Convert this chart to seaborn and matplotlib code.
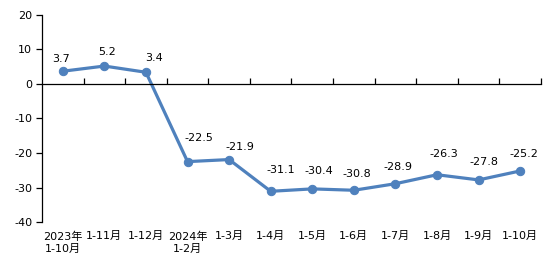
import matplotlib
matplotlib.use("Agg")
import matplotlib.pyplot as plt
import matplotlib.transforms as mtransforms
import seaborn as sns
import pandas as pd

categories = ["2023年\n1-10月", "1-11月", "1-12月", "2024年\n1-2月", "1-3月", "1-4月",
              "1-5月", "1-6月", "1-7月", "1-8月", "1-9月", "1-10月"]
values = [3.7, 5.2, 3.4, -22.5, -21.9, -31.1, -30.4, -30.8, -28.9, -26.3, -27.8, -25.2]
yticks = [20, 10, 0, -10, -20, -30, -40]

# label offsets in points (style only)
label_dx = [-1, 2, 6, 8, 8, 7, 5, 2, 2, 5, 4, 3]
label_dy = [9, 10, 10, 17, 9, 15, 13, 12, 12, 15, 13, 12]

sns.set_theme(style="white")
plt.rcParams['font.family'] = ['DejaVu Sans', 'Noto Sans CJK SC']

df = pd.DataFrame({"x": range(len(categories)), "y": values})

fig = plt.figure(figsize=(5.54, 2.72), dpi=100)
ax = fig.add_axes([0.0758, 0.1838, 0.9007, 0.7611])
color = "#4F81BD"
sns.lineplot(data=df, x="x", y="y", ax=ax, color=color, linewidth=2.3,
             marker="o", markersize=6, markeredgecolor=color, markerfacecolor=color)

ax.set_xlim(-0.5, len(categories) - 0.5)
ax.set_ylim(-40, 20)
ax.set_yticks(yticks)
ax.set_yticklabels([str(t) for t in yticks], fontsize=8, color="black")
ax.set_xlabel("")
ax.set_ylabel("")

for s in ["top", "right"]:
    ax.spines[s].set_visible(False)
ax.spines["left"].set_color("black")
ax.spines["left"].set_linewidth(0.9)
ax.spines["bottom"].set_position(("data", 0))
ax.spines["bottom"].set_color("black")
ax.spines["bottom"].set_linewidth(0.9)

ax.tick_params(axis="y", direction="out", length=4, width=0.9, color="black", left=True, pad=3)
bounds = [i + 0.5 for i in range(len(categories))]
ax.set_xticks(bounds)
ax.set_xticklabels([])
ax.tick_params(axis="x", direction="in", length=4, width=0.9, color="black", bottom=True)

trans = mtransforms.blended_transform_factory(ax.transData, ax.transAxes)
for i, c in enumerate(categories):
    ax.text(i, -0.045, c, transform=trans, ha="center", va="top", fontsize=8,
            linespacing=1.25, color="black")

for i, v in enumerate(values):
    ax.annotate(f"{v}", (i, v), xytext=(label_dx[i], label_dy[i]), textcoords="offset points",
                ha="center", va="center", fontsize=8, color="black")

fig.savefig("out.png", dpi=100)
